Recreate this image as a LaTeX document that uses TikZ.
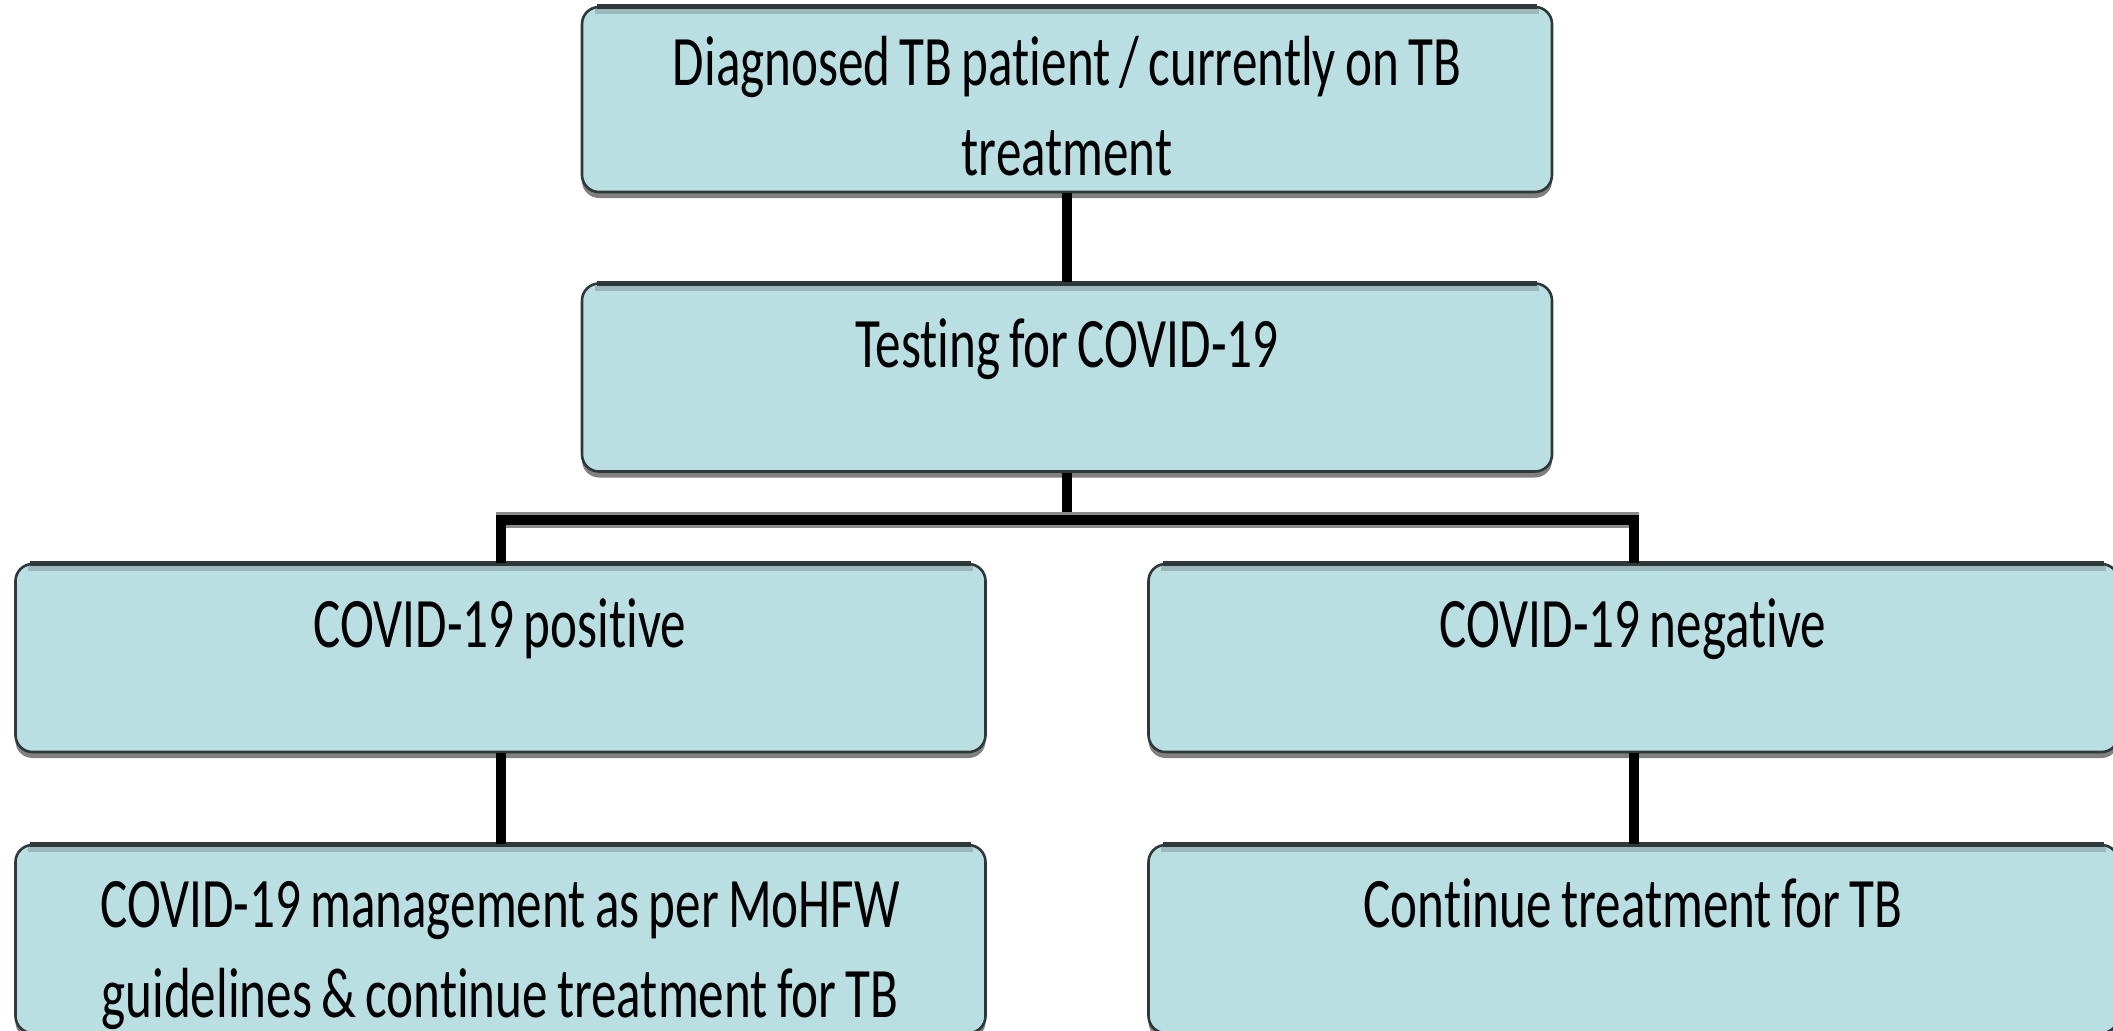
\documentclass[tikz,border=0pt]{standalone}
\usepackage{fontspec}
\setmainfont[FakeStretch=0.72, WordSpace=0.8, Ligatures={NoCommon}]{Carlito}
\usetikzlibrary{shadows}
\definecolor{boxfill}{HTML}{BADFE2}
\definecolor{boxline}{HTML}{2E3838}
\definecolor{topband}{HTML}{9BB8BC}
\tikzset{
  flowbox/.style={draw=boxline, line width=1.3pt, fill=boxfill, rounded corners=8.5pt,
    minimum width=485pt, minimum height=94pt, inner sep=0pt,
    drop shadow={shadow xshift=0pt, shadow yshift=-3pt, fill=black!50, opacity=1}},
  boxtext/.style={anchor=base, align=center, font=\fontsize{35.5}{45}\selectfont, inner sep=0pt},
  conn/.style={line width=5pt, black, line join=miter},
}
\newcommand{\topedge}[1]{%
  \draw[line width=2.6pt, boxline] ([xshift=8pt,yshift=-0.6pt]#1.north west) -- ([xshift=-8pt,yshift=-0.6pt]#1.north east);
  \draw[line width=2.4pt, topband] ([xshift=7pt,yshift=-3pt]#1.north west) -- ([xshift=-7pt,yshift=-3pt]#1.north east);}
\begin{document}
\begin{tikzpicture}[x=0.5pt, y=-0.5pt]
\useasboundingbox (0,0) rectangle (2113,1030);
\coordinate (j) at (1067,520);
% boxes
\node[flowbox, minimum height=92.5pt] (top) at (1067,99.5) {};
\node[flowbox] (test) at (1067,377.5) {};
\node[flowbox] (pos) at (500.5,658) {};
\node[flowbox] (neg) at (1633.5,658) {};
\node[flowbox] (mgmt) at (500.5,939) {};
\node[flowbox] (cont) at (1633.5,939) {};
\topedge{top}\topedge{test}\topedge{pos}\topedge{neg}\topedge{mgmt}\topedge{cont}
% connectors
\draw[conn] (top.south) -- (test.north);
\draw[conn] (test.south) -- (j);
\draw[line width=8pt, black!45] ([xshift=-2.5pt]pos.north |- j) -- ([xshift=2.5pt]neg.north |- j);
\draw[conn] (pos.north) |- (j) -| (neg.north);
\draw[conn] (pos.south) -- (mgmt.north);
\draw[conn] (neg.south) -- (cont.north);
% texts (base anchor = baseline of the last line)
\node[boxtext] (t1) at (1067,175) {Diagnosed TB patient / currently on TB\\treatment};
\node[boxtext] (t2) at (1067,367) {Testing for COVID-19};
\node[boxtext] (t3) at (500,647) {COVID-19 positive};
\node[boxtext] (t4) at (1633,647) {COVID-19 negative};
\node[boxtext] (t5) at (500,1017) {COVID-19 management as per MoHFW\\guidelines \& continue treatment for TB};
\node[boxtext] (t6) at (1633,927) {Continue treatment for TB};
\end{tikzpicture}
\end{document}
